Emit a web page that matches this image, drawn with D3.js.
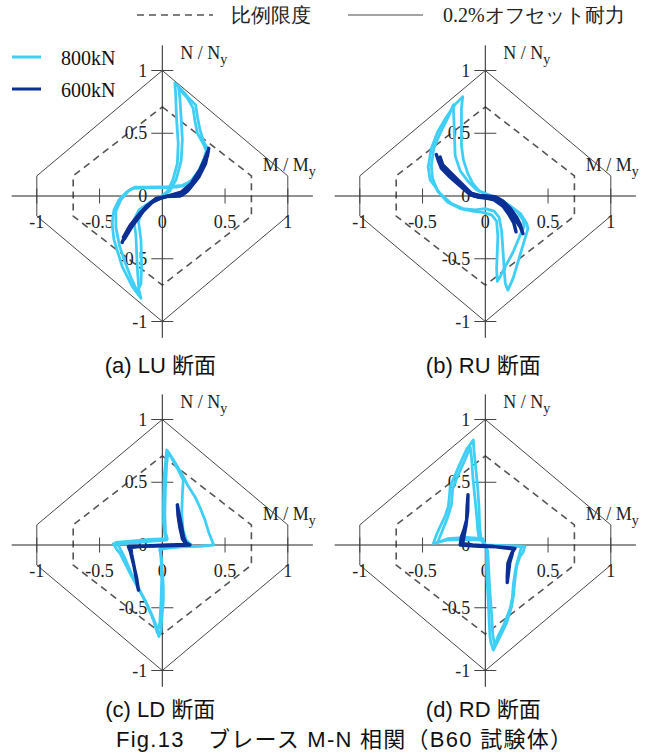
<!DOCTYPE html>
<html>
<head>
<meta charset="utf-8">
<script src="https://cdn.jsdelivr.net/npm/d3@7"></script>
<style>
  html, body { margin: 0; padding: 0; background: #fff; }
  svg { display: block; }
</style>
</head>
<body>
<svg id="chart" width="656" height="753"></svg>
<script>
// ---- interaction limits (M/My, N/Ny) ----
const fullPlasticHex = [[0, 1], [1, 0.16], [1, -0.16], [0, -1], [-1, -0.16], [-1, 0.16]];
const proportionalHex = [[0, 0.71], [0.71, 0.16], [0.71, -0.16], [0, -0.71], [-0.71, -0.16], [-0.71, 0.16]];

// ---- tick values ----
const tickValues = [-1, -0.5, 0.5, 1];
const hTickLabels = ["-1", "-0.5", "0", "0.5", "1"];
const hTickLabelValues = [-1, -0.5, 0, 0.5, 1];
const vTickLabels = ["1", "0.5", "0", "-0.5", "-1"];
const vTickLabelValues = [1, 0.5, 0, -0.5, -1];

// ---- series ----
const seriesNames = ["800kN", "600kN"];
const seriesColors = ["#3fcff6", "#0b2f95"];

// LU section
const lu800a = [[0.10,0.90],[0.16,0.84],[0.22,0.77],[0.266,0.725],[0.28,0.63],[0.30,0.53],[0.33,0.43],[0.36,0.38],[0.34,0.30],[0.30,0.21],[0.24,0.13],[0.17,0.08],[0.11,0.07],[0.0,0.066],[-0.12,0.064],[-0.24,0.06],[-0.28,0.035],[-0.345,-0.03],[-0.385,-0.11],[-0.40,-0.22],[-0.385,-0.35],[-0.36,-0.43],[-0.32,-0.56],[-0.24,-0.72],[-0.17,-0.815],[-0.186,-0.75],[-0.20,-0.56],[-0.21,-0.32],[-0.226,-0.19],[-0.186,-0.11],[-0.093,-0.045],[-0.013,-0.005],[0.04,0.035],[0.085,0.13],[0.12,0.26],[0.127,0.42],[0.114,0.605],[0.106,0.82],[0.10,0.90]];
const lu800b = [[0.13,0.86],[0.20,0.78],[0.245,0.70],[0.26,0.60],[0.28,0.50],[0.33,0.41],[0.35,0.36],[0.33,0.29],[0.29,0.20],[0.23,0.12],[0.16,0.085],[0.05,0.075],[-0.10,0.07],[-0.22,0.07],[-0.27,0.04],[-0.33,-0.03],[-0.37,-0.12],[-0.37,-0.25],[-0.34,-0.40],[-0.30,-0.52],[-0.25,-0.65],[-0.20,-0.76],[-0.17,-0.70],[-0.165,-0.55],[-0.17,-0.35],[-0.19,-0.20],[-0.16,-0.12],[-0.08,-0.04],[0.0,0.0],[0.06,0.04],[0.11,0.13],[0.15,0.28],[0.16,0.45],[0.15,0.62],[0.14,0.78],[0.13,0.86]];
const lu600a = [[-0.32,-0.37],[-0.28,-0.28],[-0.22,-0.19],[-0.13,-0.085],[-0.05,-0.02],[0.05,0.0],[0.16,0.008],[0.21,0.05],[0.29,0.15],[0.345,0.26],[0.37,0.38],[0.36,0.32],[0.32,0.22],[0.26,0.12],[0.19,0.04],[0.10,0.01],[0.0,-0.01],[-0.10,-0.06],[-0.18,-0.14],[-0.26,-0.24],[-0.31,-0.33]];
const lu600b = [[-0.30,-0.34],[-0.24,-0.24],[-0.15,-0.12],[-0.07,-0.04],[0.02,-0.005],[0.14,0.0],[0.20,0.04],[0.27,0.13],[0.33,0.25],[0.36,0.35],[0.34,0.30],[0.30,0.21],[0.23,0.10],[0.15,0.03],[0.05,0.0],[-0.06,-0.03],[-0.16,-0.12],[-0.25,-0.23],[-0.30,-0.34]];

// RU section
const ru800a = [[-0.18,0.79],[-0.19,0.70],[-0.19,0.55],[-0.19,0.40],[-0.175,0.29],[-0.14,0.18],[-0.10,0.10],[-0.05,0.04],[0.02,0.01],[0.10,-0.02],[0.20,-0.08],[0.28,-0.14],[0.33,-0.22],[0.34,-0.26],[0.31,-0.36],[0.28,-0.46],[0.25,-0.56],[0.22,-0.66],[0.18,-0.75],[0.16,-0.70],[0.15,-0.58],[0.14,-0.42],[0.13,-0.28],[0.11,-0.17],[0.07,-0.12],[0.0,-0.10],[-0.08,-0.11],[-0.18,-0.10],[-0.27,-0.06],[-0.36,0.02],[-0.44,0.13],[-0.455,0.23],[-0.43,0.38],[-0.38,0.51],[-0.31,0.63],[-0.24,0.73],[-0.18,0.79]];
const ru800b = [[-0.255,0.725],[-0.25,0.60],[-0.245,0.45],[-0.24,0.32],[-0.20,0.20],[-0.14,0.12],[-0.07,0.05],[0.0,0.02],[0.08,-0.01],[0.17,-0.06],[0.25,-0.12],[0.30,-0.19],[0.31,-0.24],[0.27,-0.33],[0.22,-0.45],[0.16,-0.56],[0.12,-0.64],[0.096,-0.68],[0.09,-0.58],[0.095,-0.45],[0.10,-0.32],[0.09,-0.20],[0.05,-0.15],[-0.02,-0.13],[-0.10,-0.12],[-0.20,-0.10],[-0.30,-0.05],[-0.38,0.04],[-0.42,0.14],[-0.43,0.24],[-0.41,0.38],[-0.36,0.50],[-0.30,0.62],[-0.255,0.725]];
const ru600a = [[-0.39,0.33],[-0.37,0.27],[-0.30,0.20],[-0.22,0.12],[-0.13,0.03],[-0.07,0.005],[0.0,0.0],[0.08,-0.005],[0.14,-0.04],[0.20,-0.10],[0.25,-0.17],[0.28,-0.23],[0.30,-0.30],[0.28,-0.25],[0.24,-0.19],[0.18,-0.11],[0.12,-0.05],[0.05,-0.02],[-0.05,-0.01],[-0.12,0.01],[-0.20,0.08],[-0.28,0.15],[-0.35,0.22],[-0.38,0.30]];
const ru600b = [[-0.36,0.31],[-0.34,0.25],[-0.27,0.18],[-0.19,0.10],[-0.11,0.02],[-0.03,0.0],[0.06,-0.01],[0.13,-0.05],[0.18,-0.12],[0.22,-0.19],[0.245,-0.285],[0.23,-0.22],[0.19,-0.15],[0.14,-0.08],[0.07,-0.03],[0.0,-0.015],[-0.09,0.0],[-0.17,0.06],[-0.26,0.14],[-0.33,0.22],[-0.36,0.31]];

// LD section
const ld800a = [[0.41,0.0],[0.37,0.10],[0.34,0.20],[0.30,0.30],[0.26,0.385],[0.20,0.48],[0.154,0.57],[0.10,0.66],[0.05,0.74],[0.035,0.757],[0.03,0.70],[0.015,0.55],[0.01,0.35],[0.01,0.18],[0.02,0.08],[0.035,0.04],[-0.10,0.03],[-0.25,0.015],[-0.39,0.01],[-0.36,-0.04],[-0.337,-0.066],[-0.29,-0.16],[-0.244,-0.25],[-0.19,-0.35],[-0.138,-0.44],[-0.09,-0.54],[-0.045,-0.65],[-0.027,-0.73],[-0.01,-0.68],[-0.005,-0.60],[0.008,-0.45],[0.008,-0.33],[0.0,-0.20],[-0.005,-0.12],[-0.019,-0.04],[0.05,-0.02],[0.15,-0.015],[0.30,-0.01],[0.41,0.0]];
const ld800b = [[0.23,0.0],[0.19,0.04],[0.165,0.12],[0.155,0.25],[0.16,0.40],[0.167,0.52],[0.12,0.61],[0.07,0.70],[0.045,0.73],[0.035,0.65],[0.025,0.45],[0.02,0.25],[0.025,0.10],[0.04,0.05],[-0.10,0.045],[-0.25,0.03],[-0.37,0.02],[-0.34,-0.02],[-0.30,-0.10],[-0.25,-0.22],[-0.18,-0.36],[-0.12,-0.48],[-0.07,-0.60],[-0.04,-0.70],[-0.02,-0.62],[-0.01,-0.45],[-0.005,-0.28],[-0.01,-0.10],[-0.02,-0.03],[0.08,-0.02],[0.23,0.0]];
const ld600a = [[0.12,0.32],[0.135,0.24],[0.155,0.14],[0.17,0.06],[0.19,0.015],[0.22,0.0],[0.10,-0.005],[-0.05,-0.008],[-0.15,-0.01],[-0.27,-0.012],[-0.255,-0.05],[-0.23,-0.15],[-0.205,-0.26],[-0.19,-0.36],[-0.205,-0.28],[-0.225,-0.17],[-0.245,-0.07],[-0.25,-0.02],[-0.10,-0.005],[0.05,0.0],[0.19,0.005],[0.16,0.05],[0.14,0.14],[0.125,0.24],[0.12,0.32]];

// RD section
const rd800a = [[-0.414,0.013],[-0.39,0.08],[-0.36,0.146],[-0.32,0.23],[-0.295,0.305],[-0.285,0.40],[-0.28,0.465],[-0.24,0.56],[-0.20,0.65],[-0.15,0.76],[-0.096,0.837],[-0.09,0.75],[-0.075,0.60],[-0.06,0.45],[-0.05,0.30],[-0.045,0.15],[-0.035,0.05],[0.0,-0.005],[0.15,-0.01],[0.316,-0.013],[0.30,-0.06],[0.276,-0.093],[0.25,-0.17],[0.236,-0.28],[0.225,-0.40],[0.21,-0.49],[0.17,-0.62],[0.117,-0.73],[0.064,-0.837],[0.045,-0.78],[0.037,-0.73],[0.024,-0.46],[0.01,-0.2],[0.01,-0.04],[-0.03,0.04],[-0.15,0.045],[-0.30,0.04],[-0.414,0.013]];
const rd800b = [[-0.38,0.02],[-0.34,0.12],[-0.30,0.22],[-0.27,0.32],[-0.26,0.45],[-0.22,0.55],[-0.17,0.66],[-0.12,0.78],[-0.11,0.70],[-0.10,0.55],[-0.085,0.40],[-0.07,0.25],[-0.06,0.12],[-0.05,0.06],[0.0,0.0],[0.15,-0.005],[0.29,-0.01],[0.27,-0.08],[0.245,-0.17],[0.225,-0.30],[0.215,-0.42],[0.20,-0.50],[0.15,-0.63],[0.10,-0.73],[0.075,-0.80],[0.06,-0.72],[0.05,-0.55],[0.035,-0.35],[0.025,-0.15],[0.02,-0.05],[-0.02,0.05],[-0.15,0.06],[-0.30,0.05],[-0.38,0.02]];
const rd600a = [[-0.138,0.40],[-0.145,0.30],[-0.149,0.20],[-0.17,0.12],[-0.19,0.066],[-0.20,0.0],[-0.05,-0.01],[0.10,-0.015],[0.236,-0.027],[0.21,-0.066],[0.18,-0.146],[0.175,-0.25],[0.175,-0.30],[0.185,-0.22],[0.195,-0.14],[0.215,-0.07],[0.22,-0.03],[0.05,-0.01],[-0.10,0.0],[-0.18,0.01],[-0.17,0.07],[-0.155,0.15],[-0.14,0.27],[-0.138,0.40]];

const panelCaptions = ["(a) LU 断面", "(b) RU 断面", "(c) LD 断面", "(d) RD 断面"];
const panelLoops = [
  [[lu800a, lu800b], [lu600a, lu600b]],
  [[ru800a, ru800b], [ru600a, ru600b]],
  [[ld800a, ld800b], [ld600a]],
  [[rd800a, rd800b], [rd600a]]
];
const figureTitle = "Fig.13　ブレース M-N 相関（B60 試験体）";
const legendLimitLabels = ["比例限度", "0.2%オフセット耐力"];

// ---- layout ----
const svg = d3.select("#chart");
const SERIF = "'Liberation Serif', Tinos, 'Times New Roman', 'DejaVu Serif', serif";
const SANS = "'Liberation Sans', Arimo, Arial, 'Noto Sans CJK JP', sans-serif";
const UNIT = 125.5;
const origins = [[162.3, 196], [485.3, 196], [162.3, 545], [485.3, 545]];
const captionDrop = [177, 177, 172, 172];

svg.append("rect").attr("width", 656).attr("height", 753).attr("fill", "#fff");

origins.forEach(([cx, cy], i) => {
  const x = d3.scaleLinear().domain([-1.2, 1.2]).range([cx - 1.2 * UNIT, cx + 1.2 * UNIT]);
  const y = d3.scaleLinear().domain([-1.2, 1.2]).range([cy + 1.2 * UNIT, cy - 1.2 * UNIT]);
  const g = svg.append("g");
  const line = d3.line().x(d => x(d[0])).y(d => y(d[1]));

  // limit envelopes
  g.append("path").attr("d", line(fullPlasticHex) + "Z")
    .attr("fill", "none").attr("stroke", "#333").attr("stroke-width", 0.9);
  g.append("path").attr("d", line(proportionalHex) + "Z")
    .attr("fill", "none").attr("stroke", "#555").attr("stroke-width", 1.6)
    .attr("stroke-dasharray", "7,5");

  // axes
  g.append("line").attr("x1", x(-1.2)).attr("x2", x(1.2)).attr("y1", y(0)).attr("y2", y(0))
    .attr("stroke", "#222").attr("stroke-width", 1);
  g.append("line").attr("x1", x(0)).attr("x2", x(0)).attr("y1", y(1.2)).attr("y2", y(-1.13))
    .attr("stroke", "#222").attr("stroke-width", 1);
  tickValues.forEach(v => {
    g.append("line").attr("x1", x(v)).attr("x2", x(v)).attr("y1", y(0) - 7.5).attr("y2", y(0) + 7.5)
      .attr("stroke", "#444").attr("stroke-width", 1);
    g.append("line").attr("x1", x(0) - 11).attr("x2", x(0) + 11).attr("y1", y(v)).attr("y2", y(v))
      .attr("stroke", "#444").attr("stroke-width", 1);
  });
  hTickLabelValues.forEach((v, k) => {
    g.append("text").attr("x", x(v)).attr("y", y(0) + 32).attr("text-anchor", "middle")
      .attr("font-family", SERIF).attr("font-size", 18).attr("fill", "#222").text(hTickLabels[k]);
  });
  vTickLabelValues.forEach((v, k) => {
    g.append("text").attr("x", x(0) - 15).attr("y", y(v) + 6).attr("text-anchor", "end")
      .attr("font-family", SERIF).attr("font-size", 18).attr("fill", "#222").text(vTickLabels[k]);
  });

  // axis titles
  const nt = g.append("text").attr("x", x(0) + 18).attr("y", y(0) - 137.5)
    .attr("font-family", SERIF).attr("font-size", 18).attr("fill", "#222");
  nt.append("tspan").text("N / N");
  nt.append("tspan").attr("font-size", 14).attr("dy", 5).text("y");
  const mt = g.append("text").attr("x", x(0) + 100.5).attr("y", y(0) - 25)
    .attr("font-family", SERIF).attr("font-size", 18).attr("fill", "#222");
  mt.append("tspan").text("M / M");
  mt.append("tspan").attr("font-size", 14).attr("dy", 5).text("y");

  // hysteresis loops
  panelLoops[i].forEach((loops, s) => {
    loops.forEach(loop => {
      g.append("path").attr("d", line(loop))
        .attr("fill", "none").attr("stroke", seriesColors[s])
        .attr("stroke-width", s === 0 ? 2.8 : 3.4)
        .attr("stroke-linejoin", "round").attr("stroke-linecap", "round");
    });
  });

  // caption
  g.append("text").attr("x", cx - 2).attr("y", cy + captionDrop[i])
    .attr("text-anchor", "middle").attr("font-family", SANS).attr("font-size", 22)
    .attr("fill", "#111").text(panelCaptions[i]);
});

// series legend (inside first panel)
seriesNames.forEach((name, s) => {
  const ly = 57 + s * 32;
  svg.append("line").attr("x1", 12).attr("x2", 41).attr("y1", ly).attr("y2", ly)
    .attr("stroke", seriesColors[s]).attr("stroke-width", 3);
  svg.append("text").attr("x", 61).attr("y", ly + 7.5)
    .attr("font-family", SERIF).attr("font-size", 20).attr("fill", "#111").text(name);
});

// limit legend (top)
svg.append("line").attr("x1", 137).attr("x2", 213).attr("y1", 15).attr("y2", 15)
  .attr("stroke", "#555").attr("stroke-width", 1.6).attr("stroke-dasharray", "7,5");
svg.append("text").attr("x", 231).attr("y", 22).attr("font-family", SERIF)
  .attr("font-size", 20).attr("fill", "#222").text(legendLimitLabels[0]);
svg.append("line").attr("x1", 348).attr("x2", 423).attr("y1", 15).attr("y2", 15)
  .attr("stroke", "#333").attr("stroke-width", 0.9);
svg.append("text").attr("x", 443).attr("y", 22).attr("font-family", SERIF)
  .attr("font-size", 20).attr("fill", "#222").text(legendLimitLabels[1]);

// figure title
svg.append("text").attr("x", 116).attr("y", 747)
  .attr("textLength", 456).attr("lengthAdjust", "spacing")
  .attr("font-family", SANS).attr("font-size", 22).attr("fill", "#111").text(figureTitle);
</script>
</body>
</html>
